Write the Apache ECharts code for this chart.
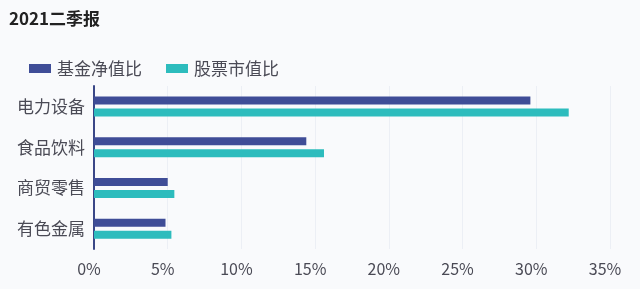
<!DOCTYPE html>
<html><head><meta charset="utf-8">
<script src="https://cdn.jsdelivr.net/npm/echarts@6/dist/echarts.min.js"></script>
<style>html,body{margin:0;padding:0;background:#f9fafc}#c{width:640px;height:289px}</style>
</head><body><div id="c"></div>
<script>
const title = '2021二季报';
const categories = ['电力设备', '食品饮料', '商贸零售', '有色金属'];
const fundNav = [29.6, 14.4, 5.0, 4.85];
const stockMv = [32.2, 15.6, 5.45, 5.25];
const seriesNames = ['基金净值比', '股票市值比'];
const xTicks = [0, 5, 10, 15, 20, 25, 30, 35];

const font = '"Noto Sans CJK SC", "Noto Sans", sans-serif';
const chart = echarts.init(document.getElementById('c'));
chart.setOption({
  backgroundColor: '#f9fafc',
  animation: false,
  title: { text: title, left: 4, top: 5, textStyle: { fontFamily: font, fontSize: 17, fontWeight: 'bold', color: '#222' } },
  legend: {
    left: 24, top: 55, itemWidth: 22, itemHeight: 9, itemGap: 24,
    icon: 'rect',
    textStyle: { fontFamily: font, fontSize: 17, color: '#4a4a55', padding: [0, 0, 0, 1] },
    data: seriesNames
  },
  grid: { left: 94, right: 30, top: 86, bottom: 40, containLabel: false },
  xAxis: {
    type: 'value', min: xTicks[0], max: xTicks[xTicks.length - 1], interval: 5,
    axisLine: { show: false }, axisTick: { show: false },
    splitLine: { show: true, lineStyle: { color: '#eceff5', width: 1 } },
    axisLabel: { fontFamily: font, fontSize: 16, color: '#4a4a55', margin: 12, formatter: '{value}%', padding: [0, 10, 0, 0] }
  },
  yAxis: {
    type: 'category', data: categories, inverse: true,
    axisLine: { show: true, lineStyle: { color: '#3a4787', width: 2 } },
    axisTick: { show: false },
    axisLabel: { fontFamily: font, fontSize: 17, color: '#4a4a55', margin: 9 }
  },
  series: [
    { name: seriesNames[0], type: 'bar', data: fundNav, barWidth: 8, barGap: '50%', itemStyle: { color: '#3f4d97' } },
    { name: seriesNames[1], type: 'bar', data: stockMv, barWidth: 8, itemStyle: { color: '#2dbcbd' } }
  ]
});
</script></body></html>
